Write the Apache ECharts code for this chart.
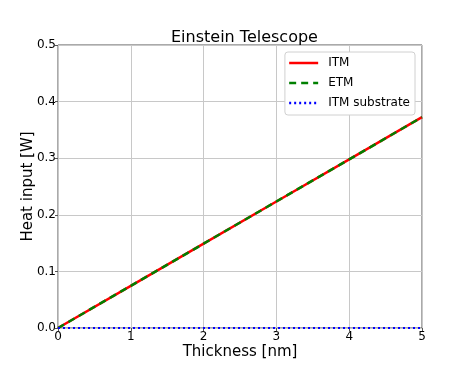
<!DOCTYPE html>
<html>
<head>
<meta charset="utf-8">
<script src="https://cdn.jsdelivr.net/npm/echarts@6/dist/echarts.min.js"></script>
<style>
  html, body { margin: 0; padding: 0; background: #fff; }
  #main { width: 469px; height: 375px; }
</style>
</head>
<body>
<div id="main"></div>
<script>
// data
var thickness = [0, 1, 2, 3, 4, 5];
var itm = [0, 0.0745, 0.149, 0.2235, 0.298, 0.3725];
var etm = [0, 0.0745, 0.149, 0.2235, 0.298, 0.3725];
var itmSubstrate = [0, 0, 0, 0, 0, 0];

function pairs(xs, ys) {
    return xs.map(function (x, i) { return [x, ys[i]]; });
}

var myChart = echarts.init(document.getElementById('main'));
var font = 'DejaVu Sans';

var option = {
    animation: false,
    textStyle: { fontFamily: font },
    title: {
        text: 'Einstein Telescope',
        left: 166, top: 25,
        textStyle: { fontFamily: font, fontSize: 16, fontWeight: 'normal', color: '#000' }
    },
    grid: {
        left: 58, right: 47, top: 45, bottom: 47,
        show: true, borderColor: '#555', borderWidth: 1, backgroundColor: '#fff'
    },
    legend: {
        right: 54, top: 52, orient: 'vertical',
        itemWidth: 29, itemHeight: 10, itemGap: 8,
        backgroundColor: '#fff', borderColor: '#d0d0d0', borderWidth: 1, borderRadius: 3,
        padding: [5, 5, 6, 3],
        itemStyle: { color: 'transparent', borderWidth: 0, opacity: 0 },
        lineStyle: { width: 2.5 },
        textStyle: { fontFamily: font, fontSize: 12, color: '#000', padding: [0, 0, 0, 5] },
        data: ['ITM', 'ETM', 'ITM substrate']
    },
    xAxis: {
        type: 'value', min: 0, max: 5, interval: 1,
        name: 'Thickness [nm]', nameLocation: 'middle', nameGap: 17,
        nameMoveOverlap: false,
        nameTextStyle: { fontFamily: font, fontSize: 15, color: '#000' },
        axisLine: { show: false },
        axisTick: { show: true, length: 3, lineStyle: { color: '#555' } },
        axisLabel: { fontFamily: font, fontSize: 12, color: '#000', margin: 3 },
        splitLine: { show: true, lineStyle: { color: '#c8c8c8', width: 1 } }
    },
    yAxis: {
        type: 'value', min: 0, max: 0.5, interval: 0.1,
        name: 'Heat input [W]', nameLocation: 'middle', nameGap: 22,
        nameMoveOverlap: false,
        nameTextStyle: { fontFamily: font, fontSize: 15, color: '#000' },
        axisLine: { show: false },
        axisTick: { show: true, length: 3, lineStyle: { color: '#555' } },
        axisLabel: {
            fontFamily: font, fontSize: 12, color: '#000', margin: 2,
            formatter: function (v) { return v.toFixed(1); }
        },
        splitLine: { show: true, lineStyle: { color: '#c8c8c8', width: 1 } }
    },
    series: [
        {
            name: 'ITM', type: 'line', symbol: 'none',
            data: pairs(thickness, itm),
            itemStyle: { color: '#ff0000' },
            lineStyle: { color: '#ff0000', width: 2.5, type: 'solid' }
        },
        {
            name: 'ETM', type: 'line', symbol: 'none',
            data: pairs(thickness, etm),
            itemStyle: { color: '#008000' },
            lineStyle: { color: '#008000', width: 2.5, type: [7, 5] }
        },
        {
            name: 'ITM substrate', type: 'line', symbol: 'none',
            data: pairs(thickness, itmSubstrate),
            itemStyle: { color: '#0000ff' },
            lineStyle: { color: '#0000ff', width: 2, type: [2, 3] }
        }
    ]
};

myChart.setOption(option);
</script>
</body>
</html>
